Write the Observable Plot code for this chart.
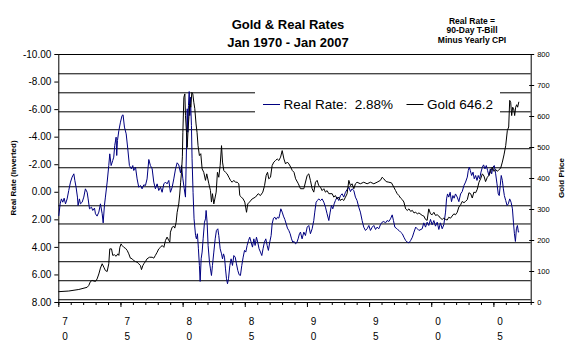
<!DOCTYPE html>
<html><head><meta charset="utf-8">
<script src="https://cdn.jsdelivr.net/npm/d3@7"></script>
<script src="https://cdn.jsdelivr.net/npm/@observablehq/plot@0.6"></script>
<style>
html,body{margin:0;padding:0;background:#fff;}
svg text{font-family:Arial,"Liberation Sans",sans-serif;}
</style></head><body><div id="chart"></div>
<script>
// Real rate (%) = 90-day T-bill minus yearly CPI, [decimal year, value]
const realRate = [
[1970.00,1.69],[1970.11,0.84],[1970.21,0.48],[1970.32,0.72],[1970.43,0.43],[1970.54,0.84],[1970.67,0.48],[1970.80,-0.13],[1970.94,-0.74],[1971.07,-1.10],[1971.21,-1.34],[1971.29,-0.86],[1971.39,-0.37],[1971.50,0.35],[1971.55,0.96],[1971.66,0.48],[1971.74,0.84],[1971.88,0.72],[1972.01,0.35],[1972.14,-0.25],[1972.28,0.00],[1972.36,0.48],[1972.47,1.20],[1972.63,1.08],[1972.73,1.32],[1972.87,1.15],[1972.95,1.56],[1973.08,1.73],[1973.22,1.44],[1973.35,0.84],[1973.49,1.56],[1973.57,2.22],[1973.67,0.96],[1973.75,0.35],[1973.89,-0.74],[1974.02,-1.94],[1974.10,-2.79],[1974.21,-1.94],[1974.34,-2.31],[1974.42,-2.55],[1974.50,-3.40],[1974.61,-4.00],[1974.66,-2.67],[1974.72,-3.76],[1974.83,-4.48],[1974.96,-5.09],[1975.09,-5.57],[1975.17,-5.62],[1975.28,-4.73],[1975.42,-4.24],[1975.55,-3.15],[1975.68,-1.94],[1975.84,-1.70],[1975.95,-1.94],[1976.03,-1.58],[1976.17,-1.82],[1976.30,-0.97],[1976.43,-0.37],[1976.57,-0.49],[1976.70,-0.25],[1976.84,-0.54],[1976.97,-0.49],[1977.10,-0.97],[1977.24,-2.38],[1977.37,-1.94],[1977.51,-1.70],[1977.64,-0.74],[1977.77,-0.25],[1977.91,-0.61],[1978.04,-0.13],[1978.18,-0.37],[1978.31,0.00],[1978.45,-0.61],[1978.58,-0.74],[1978.71,-0.61],[1978.85,-0.86],[1978.98,0.00],[1979.12,-0.37],[1979.25,-0.97],
[1979.39,-1.70],[1979.52,-2.14],[1979.65,-1.99],[1979.79,-1.41],[1979.87,-1.94],[1979.98,-0.98],[1980.09,-0.25],[1980.19,0.35],[1980.27,-3.15],[1980.33,-6.06],[1980.38,-4.36],[1980.43,-6.30],[1980.49,-7.31],[1980.54,-5.57],[1980.59,-6.90],[1980.67,-4.84],[1980.72,-2.43],[1980.80,0.00],[1980.88,1.93],[1981.00,3.14],[1981.07,3.38],[1981.15,3.01],[1981.23,4.10],[1981.31,5.31],[1981.37,6.47],[1981.45,4.83],[1981.53,4.34],[1981.61,3.38],[1981.72,2.17],[1981.80,1.93],[1981.85,1.32],[1981.93,2.17],[1982.01,3.86],[1982.12,5.07],[1982.20,5.56],[1982.28,6.04],[1982.36,5.31],[1982.47,4.34],[1982.58,3.38],[1982.68,2.77],[1982.79,2.65],[1982.87,3.14],[1982.98,4.10],[1983.09,4.47],[1983.17,4.83],[1983.25,4.47],[1983.33,4.71],[1983.41,5.56],[1983.49,6.28],[1983.57,6.64],[1983.65,6.28],[1983.76,5.31],[1983.86,4.83],[1983.97,5.31],[1984.08,4.59],[1984.19,4.71],[1984.29,5.19],[1984.40,5.68],[1984.51,5.99],[1984.61,6.04],[1984.72,5.31],[1984.83,4.71],[1984.94,4.22],[1985.04,4.34],[1985.15,3.86],[1985.26,3.50],[1985.36,3.26],[1985.47,3.62],[1985.58,3.98],[1985.69,3.38],[1985.79,3.86],[1985.90,3.26],[1986.00,3.62],[1986.11,4.10],[1986.22,4.34],[1986.33,4.59],[1986.43,4.10],[1986.54,3.62],[1986.65,3.38],[1986.76,3.86],[1986.86,4.22],[1986.97,3.62],[1987.08,3.14],[1987.16,2.29],[1987.27,1.88],[1987.38,1.81],[1987.48,1.97],[1987.59,1.81],[1987.70,1.88],[1987.78,1.56],[1987.86,1.20],[1987.97,1.44],[1988.07,1.73],[1988.18,1.97],[1988.29,2.29],[1988.39,2.60],[1988.50,2.77],[1988.61,3.01],[1988.72,3.38],[1988.82,3.62],[1988.93,3.57],[1989.04,3.74],[1989.14,3.67],[1989.25,3.38],[1989.36,3.01],
[1989.44,2.89],[1989.57,3.38],[1989.71,2.89],[1989.84,3.14],[1989.98,2.53],[1990.11,2.41],[1990.24,3.01],[1990.38,2.65],[1990.51,2.05],[1990.59,1.44],[1990.70,0.72],[1990.80,0.60],[1990.91,0.48],[1991.05,0.60],[1991.18,0.48],[1991.32,0.72],[1991.45,1.08],[1991.58,1.56],[1991.72,2.05],[1991.83,1.44],[1991.93,0.96],[1992.04,1.20],[1992.15,0.84],[1992.25,0.60],[1992.39,0.35],[1992.52,0.60],[1992.66,0.24],[1992.79,0.11],[1992.92,0.35],[1993.06,0.00],[1993.19,-0.20],[1993.33,-0.37],[1993.46,-0.05],[1993.59,-0.25],[1993.73,-0.13],[1993.86,0.35],[1993.99,0.60],[1994.13,1.08],[1994.26,1.44],[1994.40,2.05],[1994.53,2.53],[1994.67,2.77],[1994.80,2.65],[1994.94,2.41],[1995.07,2.77],[1995.21,2.53],[1995.34,2.41],[1995.48,2.70],[1995.60,2.53],[1995.74,2.65],[1995.87,2.36],[1996.01,2.17],[1996.14,2.12],[1996.28,2.22],[1996.41,2.05],[1996.55,2.12],[1996.68,1.93],[1996.82,1.64],[1996.92,2.05],[1997.03,2.53],[1997.14,2.60],[1997.25,2.70],[1997.36,2.77],[1997.49,2.89],[1997.63,3.01],[1997.76,3.26],[1997.90,3.50],[1998.03,3.62],[1998.17,3.67],[1998.30,3.50],[1998.44,3.26],[1998.57,2.89],[1998.71,2.53],[1998.84,2.65],[1998.97,2.77],
[1999.23,2.65],[1999.36,2.22],[1999.50,2.53],[1999.63,2.17],[1999.76,2.41],[1999.90,1.97],[2000.03,2.36],[2000.17,2.05],[2000.30,2.46],[2000.44,2.17],[2000.57,2.70],[2000.70,2.22],[2000.84,2.65],[2000.97,2.36],[2001.11,1.44],[2001.19,0.48],[2001.27,0.12],[2001.37,0.35],[2001.48,0.00],[2001.59,0.68],[2001.70,0.24],[2001.80,0.43],[2001.91,0.12],[2002.05,0.35],[2002.18,0.68],[2002.32,0.12],[2002.45,-0.05],[2002.59,-0.49],[2002.72,-0.74],[2002.86,-1.10],[2002.94,-1.58],[2003.02,-1.82],[2003.10,-1.58],[2003.21,-1.22],[2003.32,-1.46],[2003.42,-0.98],[2003.53,-1.22],[2003.64,-0.86],[2003.74,-1.22],[2003.85,-0.98],[2003.96,-1.46],[2004.07,-1.82],[2004.17,-1.99],[2004.28,-1.70],[2004.39,-1.94],[2004.49,-1.58],[2004.60,-1.22],[2004.71,-1.70],[2004.82,-1.34],[2004.92,-1.82],[2005.03,-1.94],[2005.14,-1.34],[2005.25,-0.61],[2005.35,0.12],[2005.43,0.24],[2005.51,-0.49],[2005.59,-1.22],[2005.68,-0.86],[2005.76,-0.25],[2005.84,0.24],[2005.95,0.60],[2006.06,0.96],[2006.16,0.84],[2006.27,0.48],[2006.38,0.72],[2006.49,1.20],[2006.57,2.17],[2006.65,3.01],[2006.73,3.57],[2006.81,2.65],[2006.89,2.41],[2006.97,2.89],[2007.00,2.88]
];

// Gold price (US$/oz), [decimal year, value]
const gold = [
[1970.00,35],[1970.80,37],[1971.61,42],[1972.28,49],[1972.41,55],[1972.55,68],[1972.68,71],[1972.95,68],[1973.08,76],[1973.22,92],[1973.35,111],[1973.49,125],[1973.62,114],[1973.75,103],[1973.89,100],[1974.02,125],[1974.10,173],[1974.24,173],[1974.34,152],[1974.48,154],[1974.61,149],[1974.75,157],[1974.83,152],[1974.91,178],[1975.01,189],[1975.09,184],[1975.23,178],[1975.36,175],[1975.50,168],[1975.63,157],[1975.76,143],[1975.90,141],[1976.03,135],[1976.17,132],[1976.30,130],[1976.43,125],[1976.57,119],[1976.65,106],[1976.76,119],[1976.84,125],[1976.97,132],[1977.10,141],[1977.29,146],[1977.51,146],[1977.64,143],[1977.77,152],[1977.91,162],[1978.04,173],[1978.18,178],[1978.31,184],[1978.45,178],[1978.58,200],[1978.71,211],[1978.85,200],[1978.93,195],[1978.98,227],[1979.12,243],[1979.25,246],[1979.33,240],[1979.44,259],[1979.52,291],[1979.65,318],[1979.73,350],[1979.80,388],[1979.87,420],[1979.94,470],[1979.98,549],[1980.06,662],[1980.14,673],[1980.19,603],[1980.27,549],[1980.33,500],[1980.40,560],[1980.47,600],[1980.54,640],[1980.62,630],[1980.70,678],[1980.78,673],[1980.86,646],[1980.94,625],[1981.04,576],[1981.12,549],[1981.20,506],[1981.31,474],[1981.42,480],[1981.53,431],[1981.66,420],[1981.80,394],[1981.90,415],
[1982.07,383],[1982.20,361],[1982.28,324],[1982.36,351],[1982.47,318],[1982.55,334],[1982.66,356],[1982.76,420],[1982.87,404],[1982.98,442],[1983.09,506],[1983.17,453],[1983.27,426],[1983.41,420],[1983.54,415],[1983.68,404],[1983.81,394],[1983.94,388],[1984.08,394],[1984.21,388],[1984.35,388],[1984.48,383],[1984.56,345],[1984.69,340],[1984.83,334],[1984.96,324],[1985.10,291],[1985.20,318],[1985.34,324],[1985.55,334],[1985.82,340],[1986.04,351],[1986.22,345],[1986.41,356],[1986.55,377],[1986.68,410],[1986.79,420],[1986.89,399],[1987.03,404],[1987.16,442],[1987.30,453],[1987.43,458],[1987.57,463],[1987.70,458],[1987.84,469],[1987.97,490],[1988.11,463],[1988.24,447],[1988.38,453],[1988.51,447],[1988.65,437],[1988.78,426],[1988.92,420],[1989.05,399],[1989.27,383],[1989.44,367],[1989.71,367],[1989.98,410],[1990.11,415],[1990.24,394],[1990.38,367],[1990.51,356],[1990.65,388],[1990.78,394],[1990.91,377],[1991.05,372],[1991.18,361],[1991.32,367],[1991.45,356],[1991.58,361],[1991.72,351],[1991.99,351],[1992.12,340],[1992.25,345],[1992.39,334],[1992.52,340],[1992.66,329],[1992.79,334],[1992.92,329],[1993.06,340],[1993.19,351],[1993.33,394],[1993.46,377],[1993.59,383],[1993.73,367],[1993.86,383],[1993.99,388],[1994.26,383],[1994.53,388],[1994.80,383],[1995.07,388],[1995.34,383],[1995.60,388],[1995.87,394],[1996.01,404],[1996.14,399],[1996.33,390],[1996.55,388],[1996.76,386],[1996.95,372],[1997.09,361],[1997.22,351],[1997.36,345],[1997.49,337],[1997.63,332],[1997.76,324],[1997.90,302],[1998.03,297],[1998.17,302],[1998.30,294],[1998.44,297],[1998.57,289],[1998.71,291],[1998.84,286],[1998.97,289],
[1999.23,281],[1999.36,279],[1999.50,268],[1999.63,265],[1999.76,302],[1999.90,286],[2000.03,283],[2000.17,291],[2000.30,281],[2000.44,283],[2000.57,279],[2000.70,272],[2000.84,268],[2000.97,272],[2001.11,268],[2001.24,266],[2001.37,275],[2001.51,272],[2001.64,279],[2001.78,286],[2001.91,283],[2002.05,291],[2002.18,308],[2002.32,315],[2002.45,326],[2002.59,322],[2002.72,326],[2002.86,332],[2002.99,354],[2003.13,351],[2003.26,337],[2003.39,356],[2003.53,354],[2003.66,365],[2003.80,388],[2003.93,399],[2004.07,415],[2004.20,408],[2004.33,390],[2004.47,404],[2004.60,410],[2004.74,423],[2004.87,437],[2005.01,423],[2005.14,429],[2005.28,423],[2005.41,429],[2005.54,433],[2005.68,453],[2005.81,476],[2005.95,506],[2006.08,555],[2006.19,566],[2006.27,652],[2006.35,646],[2006.43,603],[2006.51,630],[2006.59,625],[2006.67,603],[2006.75,630],[2006.83,638],[2006.91,630],[2007.00,646.2]
];

const realRateTicks = [-10, -8, -6, -4, -2, 0, 2, 4, 6, 8];
const goldTicks = [0, 100, 200, 300, 400, 500, 600, 700, 800];
const yearLabels = [1970, 1975, 1980, 1985, 1990, 1995, 2000, 2005];
const yearTicks = d3.range(1970, 2009);
// horizontal gridlines, expressed on the real-rate axis
const gridLevels = [-8.6, -7.22, -5.84, -4.54, -3.16, -1.78, -0.4, 0.98, 2.3, 3.66, 5.04, 6.42, 7.8];

// gold shares the vertical space: 800 at the top (-10), 0 at the bottom (8)
const goldToRate = g => 8 - g * 18 / 800;

const plot = Plot.plot({
  width: 577, height: 353,
  marginLeft: 58.3, marginRight: 46.3, marginTop: 54, marginBottom: 51,
  style: {fontFamily: "Arial, 'Liberation Sans', sans-serif", background: "#fff", color: "#000", overflow: "visible"},
  x: {domain: [1970, 2008], axis: null},
  y: {domain: [-10, 8], reverse: true, axis: null},
  marks: [
    Plot.ruleY(gridLevels, {stroke: "#000", strokeWidth: 1}),
    Plot.ruleY([-10, 8], {stroke: "#000", strokeWidth: 1}),
    Plot.ruleX([1970, 2008], {stroke: "#000", strokeWidth: 1}),
    Plot.line(realRate, {x: d => d[0], y: d => d[1], stroke: "#000080", strokeWidth: 1}),
    Plot.line(gold, {x: d => d[0], y: d => goldToRate(d[1]), stroke: "#000", strokeWidth: 1}),
    Plot.axisY({anchor: "left", ticks: realRateTicks, tickSize: 4, tickPadding: 3.5, fontSize: 10,
      tickFormat: d => d.toFixed(2), label: null}),
    Plot.axisY({anchor: "right", ticks: goldTicks.map(goldToRate), tickSize: 5, dx: -2.5,
      tickFormat: () => "", label: null}),
    Plot.axisY({anchor: "right", ticks: goldTicks.map(goldToRate), tickSize: 0, tickPadding: 6, fontSize: 7.5,
      tickFormat: d => String(Math.round((8 - d) * 800 / 18)), label: null}),
    Plot.axisX({ticks: yearTicks, tickSize: 3, tickFormat: () => "", label: null}),
    Plot.axisX({ticks: yearLabels, tickSize: 5, tickFormat: () => "", label: null}),
    Plot.axisX({ticks: yearLabels.map(y => y + 0.5), tickSize: 0, tickPadding: 12, fontSize: 10, lineHeight: 1.5,
      tickFormat: d => { const s = String(Math.round(d - 0.5)).slice(2); return s[0] + "\n" + s[1]; }, label: null})
  ]
});

document.getElementById("chart").appendChild(plot);
const svg = d3.select(plot);
const font = "Arial, 'Liberation Sans', sans-serif";

function txt(x, y, s, size, weight, anchor, rotate) {
  const t = svg.append("text")
    .attr("x", x).attr("y", y).attr("dy", "0.35em")
    .attr("text-anchor", anchor || "middle")
    .attr("font-family", font).attr("font-size", size).attr("font-weight", weight || "normal")
    .attr("fill", "#000").style("white-space", "pre").text(s);
  if (rotate) t.attr("transform", `rotate(${rotate},${x},${y})`);
  return t;
}

// titles
txt(288, 24, "Gold & Real Rates", 13, "bold");
txt(288, 42, "Jan 1970 - Jan 2007", 13, "bold");
txt(472, 21, "Real Rate =", 8.5, "bold");
txt(472, 30.5, "90-Day T-Bill", 8.5, "bold");
txt(472, 40, "Minus Yearly CPI", 8.5, "bold");

// axis titles
txt(13, 178, "Real Rate (Inverted)", 8, "bold", "middle", -90);
txt(561, 178, "Gold Price", 8, "bold", "middle", -90);

// legend
const lastRate = realRate[realRate.length - 1][1];
const lastGold = gold[gold.length - 1][1];
svg.append("rect").attr("x", 255).attr("y", 77).attr("width", 245).attr("height", 48).attr("fill", "#fff");
svg.append("line").attr("x1", 263).attr("x2", 280).attr("y1", 104.5).attr("y2", 104.5).attr("stroke", "#000080");
txt(283.5, 104.5, `Real Rate:  ${lastRate.toFixed(2)}%`, 13.5, "normal", "start");
svg.append("line").attr("x1", 406.5).attr("x2", 423.5).attr("y1", 104.5).attr("y2", 104.5).attr("stroke", "#000");
txt(427, 104.5, `Gold ${lastGold.toFixed(1)}`, 13.5, "normal", "start");
</script></body></html>
